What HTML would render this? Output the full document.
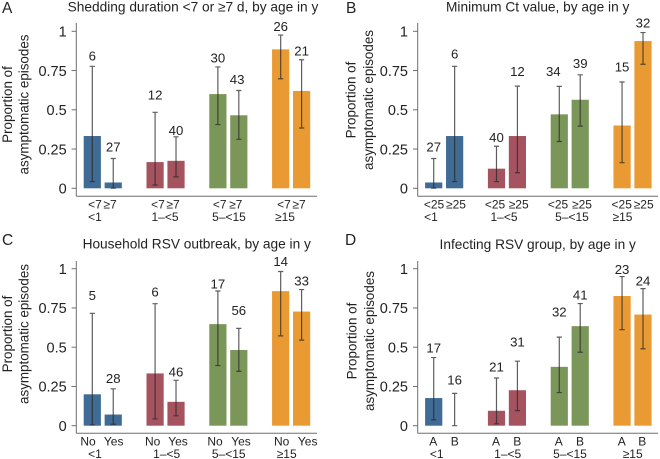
<!DOCTYPE html>
<html lang="en">
<head>
<meta charset="utf-8">
<title>Proportion of asymptomatic episodes by age</title>
<style>
html,body{margin:0;padding:0;background:#fff;}
svg{display:block;font-family:"Liberation Sans",Arial,sans-serif;fill:#222;filter:blur(0.3px);}
</style>
</head>
<body>
<svg id="chart" xmlns="http://www.w3.org/2000/svg" width="660" height="459" viewBox="0 0 660 459"></svg>
<script>
// Shared labels
const ageGroups = ['<1', '1\u2013<5', '5\u2013<15', '\u226515'];
const yTicks = [0, 0.25, 0.5, 0.75, 1];
const yTickLabels = ['0', '0.25', '0.5', '0.75', '1'];
const groupColors = ['#3f6b94', '#a5545f', '#7a9658', '#e99a33'];

// Panel A
const aCategories = ['<7', '\u22657', '<7', '\u22657', '<7', '\u22657', '<7', '\u22657'];
const aValues = [0.333, 0.037, 0.167, 0.175, 0.6, 0.465, 0.885, 0.62];
const aLow = [0.043, 0.001, 0.021, 0.073, 0.406, 0.312, 0.698, 0.384];
const aHigh = [0.777, 0.19, 0.484, 0.328, 0.773, 0.623, 0.976, 0.819];
const aCounts = [6, 27, 12, 40, 30, 43, 26, 21];

// Panel B
const bCategories = ['<25', '\u226525', '<25', '\u226525', '<25', '\u226525', '<25', '\u226525'];
const bValues = [0.037, 0.333, 0.125, 0.333, 0.471, 0.564, 0.4, 0.938];
const bLow = [0.001, 0.043, 0.042, 0.099, 0.298, 0.396, 0.163, 0.79];
const bHigh = [0.19, 0.777, 0.268, 0.651, 0.649, 0.723, 0.677, 0.992];
const bCounts = [27, 6, 40, 12, 34, 39, 15, 32];

// Panel C
const cCategories = ['No', 'Yes', 'No', 'Yes', 'No', 'Yes', 'No', 'Yes'];
const cValues = [0.2, 0.071, 0.333, 0.152, 0.647, 0.482, 0.857, 0.727];
const cLow = [0.005, 0.009, 0.043, 0.063, 0.383, 0.346, 0.572, 0.545];
const cHigh = [0.716, 0.235, 0.777, 0.289, 0.858, 0.62, 0.982, 0.867];
const cCounts = [5, 28, 6, 46, 17, 56, 14, 33];

// Panel D
const dCategories = ['A', 'B', 'A', 'B', 'A', 'B', 'A', 'B'];
const dValues = [0.176, 0, 0.095, 0.226, 0.375, 0.634, 0.826, 0.708];
const dLow = [0.038, 0, 0.012, 0.096, 0.211, 0.468, 0.612, 0.49];
const dHigh = [0.434, 0.206, 0.304, 0.411, 0.564, 0.778, 0.95, 0.873];
const dCounts = [17, 16, 21, 31, 32, 41, 23, 24];

const panels = [
  {id:'a', letter:'A', letterX:2, letterY:13, title:'Shedding duration <7 or \u22657 d, by age in y', titleX:193, titleY:11.7,
   cats:aCategories, vals:aValues, low:aLow, high:aHigh, counts:aCounts,
   axisX:76.3, axisEnd:317, y0:188.3, y1:31.3, axisY:196.3, axisTop:23, firstBar:92.3, tickRight:66.7,
   titleLine1X:7.5, titleLine2X:24, titleMid:104.5, row1:204.5, row2:217,
   catX:[95,110,158,173,219.7,235.7,284,299], ageX:[95,165,229,285],
   lift:[10.3,11.7,17.3,6.7,9.3,11,9,8.7], nudge:[0,0,0,0,0,-1.7,0,0]},
  {id:'b', letter:'B', letterX:346, letterY:13, title:'Minimum Ct value, by age in y', titleX:537.7, titleY:11.7,
   cats:bCategories, vals:bValues, low:bLow, high:bHigh, counts:bCounts,
   axisX:417.7, axisEnd:658, y0:188.3, y1:31.3, axisY:196.3, axisTop:23, firstBar:433.7, tickRight:408,
   titleLine1X:351, titleLine2X:368.5, titleMid:100, row1:204.5, row2:217,
   catX:[434,456,495,518.7,558,582,621.7,643.7], ageX:[431,504,572,622.5],
   lift:[11.7,12.3,9,15,15,11.3,15,10], nudge:[0,0,0,0,-6,0,0,0]},
  {id:'c', letter:'C', letterX:2, letterY:245, title:'Household RSV outbreak, by age in y', titleX:196.7, titleY:248.3,
   cats:cCategories, vals:cValues, low:cLow, high:cHigh, counts:cCounts,
   axisX:76.3, axisEnd:317, y0:425.7, y1:268.7, axisY:433.3, axisTop:261, firstBar:92.3, tickRight:66.7,
   titleLine1X:7.5, titleLine2X:24, titleMid:334, row1:441.5, row2:454,
   catX:[88,113.7,152.7,178,215,241,281.7,307.7], ageX:[95,166.7,228.7,286.7],
   lift:[18,10.3,11.7,8.7,7.3,18,10,8.7], nudge:[0,0,0,0,0,0,0,0]},
  {id:'d', letter:'D', letterX:345, letterY:245, title:'Infecting RSV group, by age in y', titleX:537.7, titleY:249,
   cats:dCategories, vals:dValues, low:dLow, high:dHigh, counts:dCounts,
   axisX:417.7, axisEnd:658, y0:425.7, y1:268.7, axisY:433.3, axisTop:261, firstBar:433.7, tickRight:408,
   titleLine1X:352, titleLine2X:369.5, titleMid:341, row1:441.5, row2:454,
   catX:[433.3,454.7,496,517.3,558.7,580,621.7,642.3], ageX:[436.7,507.7,570,632.7],
   lift:[9.7,13.7,11,19.3,25.3,8.7,7.3,8], nudge:[0,0,0,0,0,0,0,0]}
];

const NS = 'http://www.w3.org/2000/svg';
const root = document.getElementById('chart');
const BAR_STEP = 20.93;
const BAR_WIDTH = 17.2;
const CAP = 2.6;
const AXIS_COLOR = '#6f6f6f';
const ERR_COLOR = 'rgba(40,40,40,0.75)';

function make(parent, tag, attrs, text) {
  const el = document.createElementNS(NS, tag);
  for (const k in attrs) el.setAttribute(k, attrs[k]);
  if (text !== undefined) el.textContent = text;
  parent.appendChild(el);
  return el;
}

function drawPanel(p) {
  const xScale = i => p.firstBar + (i + Math.floor(i / 2)) * BAR_STEP;
  const yScale = v => p.y0 - (p.y0 - p.y1) * v;

  const g = make(root, 'g', {});
  
  

  const letter = make(g, 'text', {x:p.letterX, y:p.letterY, 'font-size':15.5}, p.letter);
  
  

  const title = make(g, 'text', {x:p.titleX, y:p.titleY, 'font-size':13.7, 'text-anchor':'middle'}, p.title);
  
  

  // bars
  p.vals.forEach((v, i) => {
    const bar = make(g, 'rect', {
      x: xScale(i) - BAR_WIDTH / 2,
      y: yScale(v),
      width: BAR_WIDTH,
      height: Math.max(0, p.y0 - yScale(v)),
      fill: groupColors[Math.floor(i / 2)]
    });
    
    
  });

  // error bars
  p.vals.forEach((v, i) => {
    const cx = xScale(i);
    const hi = yScale(p.high[i]);
    const lo = yScale(p.low[i]);
    const err = make(g, 'path', {
      d: 'M' + (cx - CAP) + ' ' + hi + 'H' + (cx + CAP) + 'M' + cx + ' ' + hi + 'V' + lo + 'M' + (cx - CAP) + ' ' + lo + 'H' + (cx + CAP),
      fill: 'none',
      stroke: ERR_COLOR,
      'stroke-width': 1.2
    });
    
    
  });

  // count labels
  p.counts.forEach((n, i) => {
    const label = make(g, 'text', {
      x: xScale(i) + p.nudge[i],
      y: yScale(p.high[i]) - p.lift[i] + 4.7,
      'font-size': 13.2,
      'text-anchor': 'middle'
    }, n);
    
    
  });

  // axes
  const yAxis = make(g, 'line', {x1:p.axisX, x2:p.axisX, y1:p.axisTop, y2:p.axisY, stroke:AXIS_COLOR, 'stroke-width':1});
  
  

  const xAxis = make(g, 'line', {x1:p.axisX, x2:p.axisEnd, y1:p.axisY, y2:p.axisY, stroke:AXIS_COLOR, 'stroke-width':1});
  
  

  yTicks.forEach((t, i) => {
    const tick = make(g, 'line', {x1:p.axisX - 4.7, x2:p.axisX, y1:yScale(t), y2:yScale(t), stroke:AXIS_COLOR, 'stroke-width':1});
    
    
    const label = make(g, 'text', {x:p.tickRight, y:yScale(t) + 5.2, 'font-size':14.5, 'text-anchor':'end'}, yTickLabels[i]);
    
    
  });

  // y axis title
  const line1 = make(g, 'text', {
    transform: 'translate(' + (p.titleLine1X + 4.5) + ',' + p.titleMid + ') rotate(-90)',
    'font-size': 13.4, 'text-anchor': 'middle'
  }, 'Proportion of');
  
  
  const line2 = make(g, 'text', {
    transform: 'translate(' + (p.titleLine2X + 4.5) + ',' + p.titleMid + ') rotate(-90)',
    'font-size': 13.4, 'text-anchor': 'middle'
  }, 'asymptomatic episodes');
  
  

  // x tick labels
  p.cats.forEach((c, i) => {
    const label = make(g, 'text', {x:p.catX[i], y:p.row1 + 4.2, 'font-size':12, 'text-anchor':'middle'}, c);
    
    
  });
  ageGroups.forEach((a, i) => {
    const label = make(g, 'text', {x:p.ageX[i], y:p.row2 + 4.2, 'font-size':12, 'text-anchor':'middle'}, a);
    
    
  });
}

panels.forEach(drawPanel);
</script>
</body>
</html>
